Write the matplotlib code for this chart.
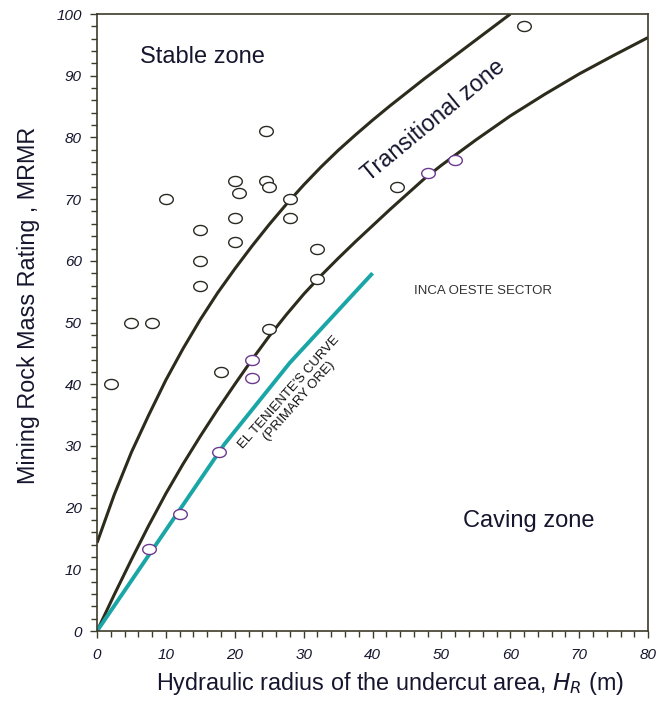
import numpy as np
import matplotlib
matplotlib.use("Agg")
import matplotlib.pyplot as plt
from matplotlib.path import Path
from matplotlib.ticker import MultipleLocator

plt.rcParams['font.family'] = ['Liberation Sans', 'DejaVu Sans']

# ---- data ----
stable_x = [62, 24.5, 20, 24.5, 20.6, 25, 28, 10, 20, 28, 15, 20, 32, 15, 15, 32, 5, 8, 25, 18, 2, 43.5]
stable_y = [98, 81, 73, 73, 71, 72, 70, 70, 67, 67, 65, 63, 62, 60, 56, 57, 50, 50, 49, 42, 40, 72]

inca_x = [22.5, 22.5, 17.7, 12, 7.5, 48, 52]
inca_y = [44, 41, 29, 19, 13.3, 74.2, 76.3]

upper_x = [0, 2.5, 5, 7.5, 10, 12.5, 15, 17.5, 20, 22.5, 25, 27.5, 30, 32.5, 35,
           37.5, 40, 42.5, 45, 47.5, 50, 52.5, 55, 57.5, 60]
upper_y = [14.3, 22.1, 29.0, 35.0, 40.7, 45.8, 50.5, 54.8, 58.7, 62.4, 65.9, 69.2, 72.3,
           75.2, 77.9, 80.4, 82.8, 85.1, 87.3, 89.5, 91.6, 93.7, 95.8, 97.9, 100]

lower_x = [0, 2.5, 5, 7.5, 10, 12.5, 15, 17.5, 20, 22.5, 25, 27.5, 30, 32.5, 35, 37.5,
           40, 42.5, 45, 47.5, 50, 55, 60, 65, 70, 75, 80]
lower_y = [0, 5.9, 11.6, 17.1, 22.3, 27.1, 31.6, 35.9, 40.0, 44.0, 47.8, 51.3, 54.6, 57.6,
           60.4, 63.1, 65.7, 68.3, 70.8, 73.3, 75.5, 79.6, 83.5, 87.0, 90.3, 93.3, 96.2]

teniente_x = [0, 18.5, 28, 40]
teniente_y = [0, 30.3, 43.5, 58]

x_ticks = [0, 10, 20, 30, 40, 50, 60, 70, 80]
y_ticks = [0, 10, 20, 30, 40, 50, 60, 70, 80, 90, 100]

# ---- figure ----
fig = plt.figure(figsize=(6.6, 7.02), dpi=100)
ax = fig.add_axes([0.147, 0.101, 0.835, 0.879])

text_c = '#15152e'
line_c = '#2d2b1c'
spine_c = '#3d3b2a'

ax.plot(upper_x, upper_y, color=line_c, lw=2.2, solid_capstyle='butt',
        solid_joinstyle='round', zorder=2)
ax.plot(lower_x, lower_y, color=line_c, lw=2.2, solid_capstyle='butt',
        solid_joinstyle='round', zorder=2)
ax.plot(teniente_x, teniente_y, color='#1aa6a6', lw=2.8, solid_capstyle='butt',
        solid_joinstyle='round', zorder=2)

t = np.linspace(0, 2 * np.pi, 60)
ell = Path(np.column_stack([1.35 * np.cos(t), np.sin(t)]), closed=True)

ax.plot(stable_x, stable_y, ls='none', marker=ell, markersize=9.8, mfc='white',
        mec='#2a2a22', mew=1.0, zorder=3, clip_on=False)
ax.plot(inca_x, inca_y, ls='none', marker=ell, markersize=9.8, mfc='white',
        mec='#6b3a8e', mew=1.0, zorder=3, clip_on=False)

ax.set_xlim(0, 80)
ax.set_ylim(0, 100)
ax.set_xticks(x_ticks)
ax.set_yticks(y_ticks)
ax.xaxis.set_minor_locator(MultipleLocator(2))
ax.yaxis.set_minor_locator(MultipleLocator(2))
ax.tick_params(which='both', direction='out', color=spine_c, width=1.0)
ax.tick_params(which='major', length=5)
ax.tick_params(which='minor', length=4)
ax.tick_params(axis='x', pad=7)
ax.tick_params(axis='y', pad=6)
for lab in ax.get_xticklabels() + ax.get_yticklabels():
    lab.set_fontstyle('italic')
    lab.set_fontsize(11)
    lab.set_color(text_c)
for s in ax.spines.values():
    s.set_color(spine_c)
    s.set_linewidth(1.2)

ax.set_xlabel('Hydraulic radius of the undercut area, $\\mathit{H_R}$ (m)',
              fontsize=16.8, color=text_c, labelpad=6)
ax.set_ylabel('Mining Rock Mass Rating , MRMR', fontsize=16.8, color=text_c, labelpad=12)
ax.xaxis.label.set_x(0.532)
ax.yaxis.label.set_y(0.528)

ax.text(6.2, 93, 'Stable zone', fontsize=17, color=text_c, ha='left', va='center')
ax.text(48.8, 82.8, 'Transitional zone', fontsize=16.8, color=text_c, ha='center',
        va='center', rotation=39.5, rotation_mode='anchor')
ax.text(62.6, 17.8, 'Caving zone', fontsize=17, color=text_c, ha='center', va='center')
ax.text(56, 55.1, 'INCA OESTE SECTOR', fontsize=9.5, color='#333333', ha='center', va='center')
ax.text(28.6, 38, "EL TENIENTE'S CURVE\n(PRIMARY ORE)", fontsize=9.5, color='#111111',
        ha='center', va='center', rotation=48.5, rotation_mode='anchor', linespacing=1.15)

fig.savefig('out.png', dpi=100)
